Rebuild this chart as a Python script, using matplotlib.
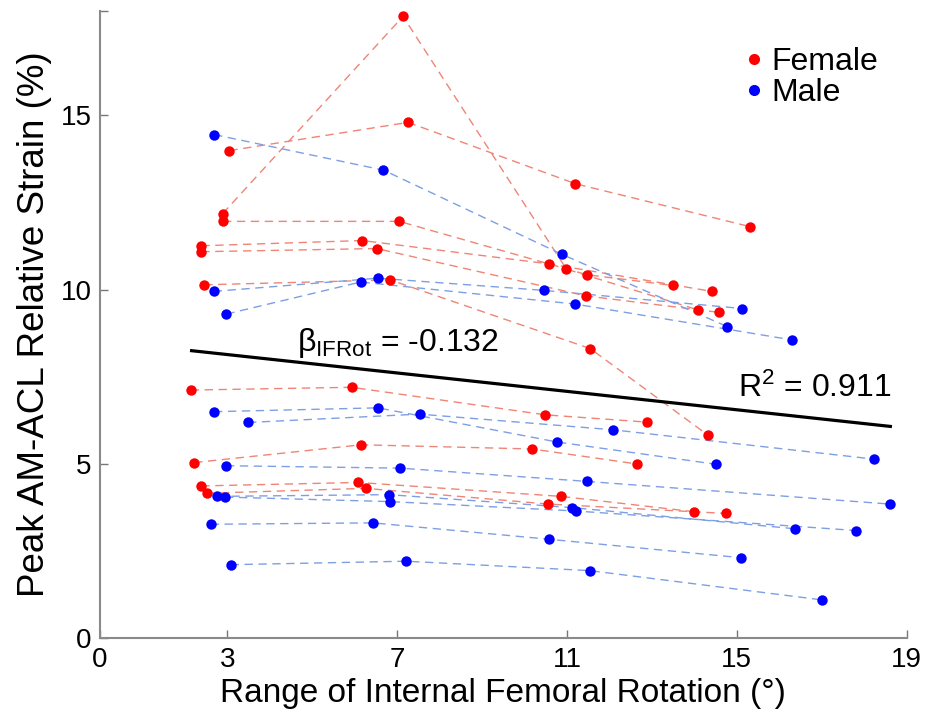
import numpy as np
import matplotlib
matplotlib.use("Agg")
import matplotlib.pyplot as plt
from matplotlib.lines import Line2D

plt.rcParams['font.family'] = ['Liberation Sans', 'DejaVu Sans']
plt.rcParams['axes.unicode_minus'] = False

## Range of internal femoral rotation (deg) for each subject, 4 trials each
female_x = [
    [3.05, 7.26, 11.20, 15.31],
    [2.89, 7.14, 10.99, 14.09],
    [2.90, 7.05, 11.47, 13.50],
    [2.39, 6.18, 10.58, 14.42],
    [2.39, 6.52, 11.46, 14.58],
    [2.46, 6.84, 11.55, 14.33],
    [2.14, 5.93, 10.49, 12.89],
    [2.22, 6.16, 10.18, 12.65],
    [2.39, 6.09, 10.86, 14.00],
    [2.53, 6.26, 10.56, 14.75],
]
## Peak AM-ACL relative strain (%)
female_y = [
    [13.99, 14.80, 13.04, 11.81],
    [12.18, 17.84, 10.59, 9.42],
    [11.96, 11.96, 10.43, 10.12],
    [11.26, 11.41, 10.74, 9.95],
    [11.09, 11.18, 9.82, 9.35],
    [10.14, 10.28, 8.31, 5.82],
    [7.12, 7.20, 6.41, 6.20],
    [5.04, 5.55, 5.43, 5.00],
    [4.37, 4.47, 4.07, 3.63],
    [4.16, 4.30, 3.85, 3.58],
]
male_x = [
    [2.69, 6.68, 10.89, 14.78],
    [2.68, 6.55, 10.46, 15.13],
    [2.98, 6.14, 11.18, 16.30],
    [2.69, 6.55, 10.77, 14.52],
    [3.49, 7.53, 12.09, 18.23],
    [2.97, 7.08, 11.47, 18.60],
    [2.77, 6.80, 11.11, 16.38],
    [2.95, 6.84, 11.22, 17.82],
    [2.61, 6.43, 10.58, 15.11],
    [3.08, 7.21, 11.54, 17.01],
]
male_y = [
    [14.45, 13.43, 11.01, 8.94],
    [9.95, 10.33, 9.98, 9.46],
    [9.30, 10.22, 9.59, 8.56],
    [6.50, 6.61, 5.63, 4.99],
    [6.19, 6.43, 5.98, 5.14],
    [4.95, 4.88, 4.50, 3.85],
    [4.07, 4.12, 3.75, 3.14],
    [4.05, 3.92, 3.65, 3.09],
    [3.27, 3.31, 2.84, 2.31],
    [2.11, 2.21, 1.94, 1.10],
]

# regression fit
fit_x = [2.16, 18.62]
fit_intercept = 8.535
fit_slope = -0.132

x_ticks = [0, 3, 7, 11, 15, 19]
y_ticks = [0, 5, 10, 15]

fig = plt.figure(figsize=(9.25, 7.22), dpi=100)
ax = fig.add_axes([0.108, 0.116, 0.872, 0.869])

# dashed connecting lines per subject
for xs, ys in zip(female_x, female_y):
    ax.plot(xs, ys, linestyle=(0, (6, 4)), color='#ef8576', lw=1.0, zorder=1)
for xs, ys in zip(male_x, male_y):
    ax.plot(xs, ys, linestyle=(0, (6, 4)), color='#7d9fe4', lw=1.0, zorder=1)

# regression line
fx = np.array(fit_x)
ax.plot(fx, fit_intercept + fit_slope * fx, color='black', lw=2.3, zorder=2)

# subject points
ax.plot(np.ravel(female_x), np.ravel(female_y), 'o', color='#ff0000', ms=7.5, mec='none', zorder=3)
ax.plot(np.ravel(male_x), np.ravel(male_y), 'o', color='#0000ff', ms=7.5, mec='none', zorder=3)

ax.text(4.64, 8.23, r'$\mathregular{\beta_{IFRot}}$ = -0.132', fontsize=23, ha='left', va='baseline')
ax.text(15.03, 6.91, r'R$\mathregular{^2}$ = 0.911', fontsize=23, ha='left', va='baseline')

handles = [Line2D([], [], marker='o', ls='none', color='#ff0000', ms=8, mec='none'),
           Line2D([], [], marker='o', ls='none', color='#0000ff', ms=8, mec='none')]
ax.legend(handles, ['Female', 'Male'], loc='upper left', bbox_to_anchor=(0.771, 0.968),
          frameon=False, fontsize=23, handletextpad=0.05, labelspacing=0.05,
          handlelength=1.0, borderpad=0)

# formatting
ax.set_xlim(0, 19)
ax.set_ylim(0, 18)
ax.set_xticks(x_ticks)
ax.set_yticks(y_ticks + [18])
ax.set_yticklabels([str(t) for t in y_ticks] + [''])
ax.tick_params(direction='in', length=6, width=1, colors='#777777', labelcolor='black',
               labelsize=20, pad=6)
for side in ['top', 'right']:
    ax.spines[side].set_visible(False)
for side in ['left', 'bottom']:
    ax.spines[side].set_color('#8a8a8a')
    ax.spines[side].set_linewidth(1.5)
ax.set_xlabel('Range of Internal Femoral Rotation (°)', fontsize=24, labelpad=4)
ax.set_ylabel('Peak AM-ACL Relative Strain (%)', fontsize=26.5, labelpad=6)

fig.savefig('out.png', dpi=100)
